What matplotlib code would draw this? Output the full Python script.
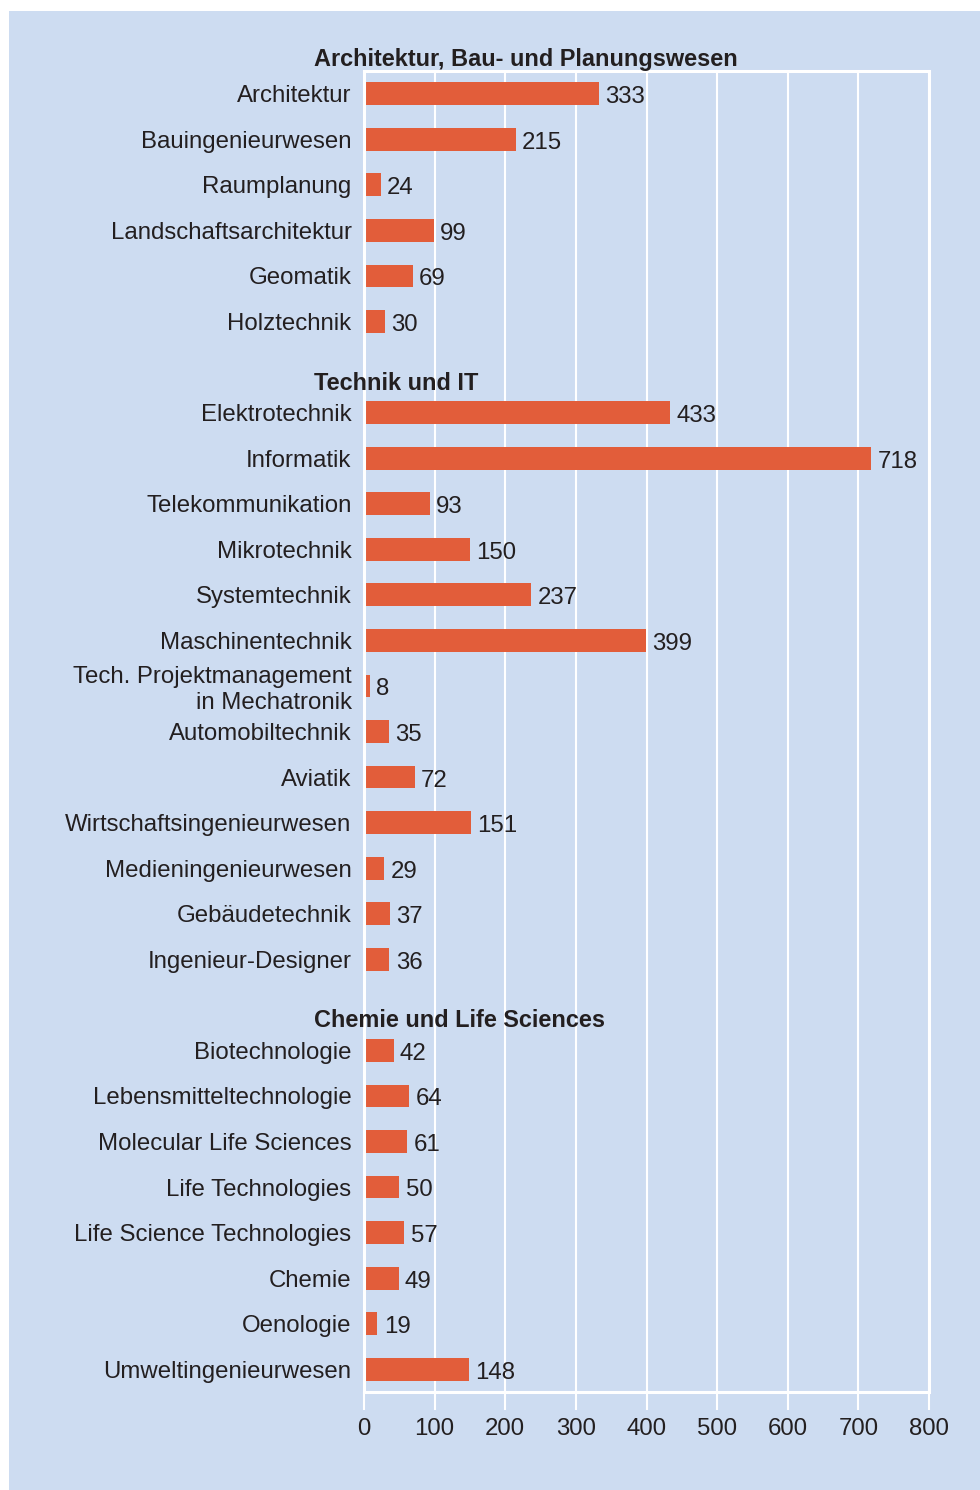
import matplotlib.pyplot as plt
import matplotlib.transforms as mtransforms
from matplotlib.patches import Rectangle

plt.rcParams["font.family"] = ["Liberation Sans", "DejaVu Sans"]

# ---------------------------------------------------------------------
# Data
# ---------------------------------------------------------------------
groups = [
    "Architektur, Bau- und Planungswesen",
    "Technik und IT",
    "Chemie und Life Sciences",
]

arch_labels = ["Architektur", "Bauingenieurwesen", "Raumplanung",
               "Landschaftsarchitektur", "Geomatik", "Holztechnik"]
arch_values = [333, 215, 24, 99, 69, 30]

tech_labels = ["Elektrotechnik", "Informatik", "Telekommunikation",
               "Mikrotechnik", "Systemtechnik", "Maschinentechnik",
               "Tech. Projektmanagement\nin Mechatronik", "Automobiltechnik",
               "Aviatik", "Wirtschaftsingenieurwesen", "Medieningenieurwesen",
               "Gebäudetechnik", "Ingenieur-Designer"]
tech_values = [433, 718, 93, 150, 237, 399, 8, 35, 72, 151, 29, 37, 36]

chem_labels = ["Biotechnologie", "Lebensmitteltechnologie",
               "Molecular Life Sciences", "Life Technologies",
               "Life Science Technologies", "Chemie", "Oenologie",
               "Umweltingenieurwesen"]
chem_values = [42, 64, 61, 50, 57, 49, 19, 148]

x_ticks = [0, 100, 200, 300, 400, 500, 600, 700, 800]

# ---------------------------------------------------------------------
# Build row positions (one empty slot before each later group heading)
# ---------------------------------------------------------------------
labels, values, pos, heading_pos = [], [], [], []
slot = 0
for i, (lab, val) in enumerate([(arch_labels, arch_values),
                                (tech_labels, tech_values),
                                (chem_labels, chem_values)]):
    if i > 0:
        heading_pos.append(slot + 0.35)
        slot += 1
    else:
        heading_pos.append(-0.76)
    for l, v in zip(lab, val):
        labels.append(l)
        values.append(v)
        pos.append(slot)
        slot += 1

bg = "#cddcf1"
bar_color = "#e25d3a"
txt = "#231f20"
fs = 17.3

fig = plt.figure(figsize=(9.8, 14.9), dpi=100, facecolor="white")
fig.patches.append(Rectangle((9 / 980, 0), 1, (1490 - 11) / 1490,
                             transform=fig.transFigure, facecolor=bg,
                             edgecolor="none", zorder=-10))

ax = fig.add_axes([364 / 980, 98 / 1490, 565 / 980, 1321 / 1490])
ax.set_facecolor(bg)

ax.barh(pos, values, height=0.5, color=bar_color, zorder=3)

for p, v in zip(pos, values):
    ax.annotate(str(v), (v, p), xytext=(4.5, -2.5), textcoords="offset points",
                ha="left", va="center", fontsize=fs, color=txt, zorder=5)

# group headings
trans = mtransforms.blended_transform_factory(fig.transFigure, ax.transData)
for g, hp in zip(groups, heading_pos):
    ax.text(314 / 980, hp, g, transform=trans, ha="left", va="center",
            fontsize=16.9, fontweight="bold", color=txt, clip_on=False,
            zorder=6)

ax.set_xlim(0, 800)
ax.set_ylim(slot - 0.5, -0.5)
ax.set_xticks(x_ticks)
ax.set_xticklabels([str(t) for t in x_ticks])
ax.set_yticks(pos)
ax.set_yticklabels(labels)

ax.tick_params(axis="y", length=0, pad=9, labelsize=fs, labelcolor=txt)
ax.tick_params(axis="x", length=13, width=1.5, color="white", pad=6,
               labelsize=fs, labelcolor=txt)

ax.grid(axis="x", color="white", linewidth=1.5, zorder=1)
ax.set_axisbelow(True)
for s in ax.spines.values():
    s.set_color("white")
    s.set_linewidth(2.2)
    s.set_zorder(4)

plt.savefig("out.png", dpi=100, facecolor=fig.get_facecolor())
